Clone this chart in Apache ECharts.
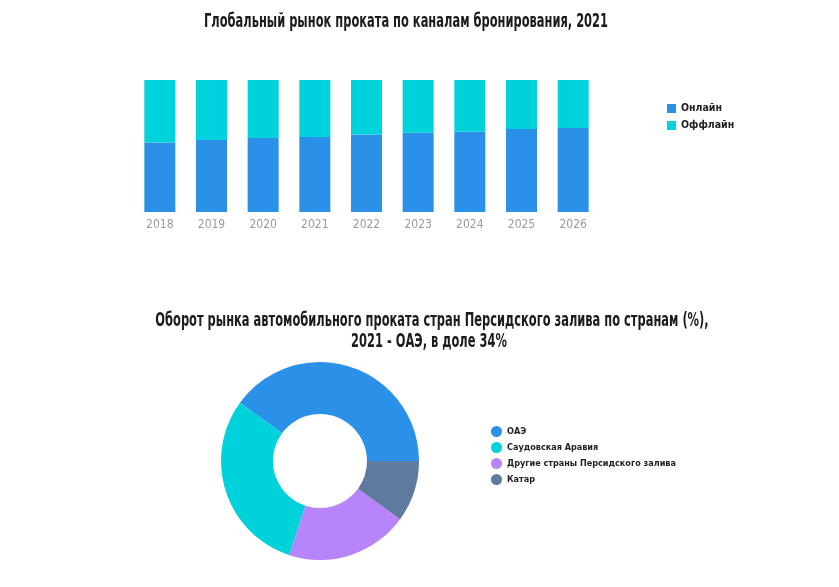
<!DOCTYPE html>
<html>
<head>
<meta charset="utf-8">
<script src="https://cdn.jsdelivr.net/npm/echarts@6/dist/echarts.min.js"></script>
<style>
html,body{margin:0;padding:0;background:#fff;}
#chart{width:839px;height:587px;}
</style>
</head>
<body>
<div id="chart"></div>
<script>
var FONT = "'Liberation Sans Narrow','DejaVu Sans Condensed','Roboto Condensed',sans-serif";

var barTitle = 'Глобальный рынок проката по каналам бронирования, 2021';
var years = ['2018','2019','2020','2021','2022','2023','2024','2025','2026'];
var barSeriesNames = ['Онлайн','Оффлайн'];
var onlineShare = [52.6, 54.5, 56.0, 56.8, 58.8, 60.0, 60.8, 62.9, 63.6];
var offlineShare = [47.4, 45.5, 44.0, 43.2, 41.2, 40.0, 39.2, 37.1, 36.4];

var pieTitle1 = 'Оборот рынка автомобильного проката стран Персидского залива по странам (%),';
var pieTitle2 = '2021 - ОАЭ, в доле 34%';
var countries = ['ОАЭ','Саудовская Аравия','Другие страны Персидского залива','Катар'];
var countryShare = [40, 30, 20, 10];

var blue = '#2a90e8', cyan = '#00d2dc', purple = '#b884fb', slate = '#5e7a9e';

var chart = echarts.init(document.getElementById('chart'), null, {renderer:'canvas'});
chart.setOption({
  backgroundColor:'#ffffff',
  animation:false,
  textStyle:{fontFamily:FONT},
  graphic:[
    {type:'text', x:406, y:22, scaleX:0.67, style:{text:barTitle, fill:'#1c1c1c', font:'bold 19px '+FONT, textAlign:'center', textVerticalAlign:'middle'}},
    {type:'text', x:432, y:321, scaleX:0.67, style:{text:pieTitle1, fill:'#1c1c1c', font:'bold 19px '+FONT, textAlign:'center', textVerticalAlign:'middle'}},
    {type:'text', x:429, y:342, scaleX:0.67, style:{text:pieTitle2, fill:'#1c1c1c', font:'bold 19px '+FONT, textAlign:'center', textVerticalAlign:'middle'}}
  ],
  legend:[
    {orient:'vertical', left:662, top:98, itemWidth:9, itemHeight:9, itemGap:6, icon:'rect',
     data:barSeriesNames, textStyle:{fontFamily:FONT, fontSize:10.5, color:'#222', fontWeight:'bold'}},
    {orient:'vertical', left:486, top:421, itemWidth:11, itemHeight:11, itemGap:5, icon:'circle',
     data:countries, textStyle:{fontFamily:FONT, fontSize:9, color:'#222', fontWeight:'bold'}}
  ],
  grid:{left:134, right:240, top:80, bottom:375, containLabel:false},
  xAxis:{type:'category', data:years, axisLine:{show:false}, axisTick:{show:false},
    axisLabel:{color:'#9a9a9a', fontSize:12, margin:7, fontFamily:FONT}},
  yAxis:{type:'value', min:0, max:100, show:false, splitLine:{show:false}},
  series:[
    {name:barSeriesNames[0], type:'bar', stack:'s', barWidth:'60%', data:onlineShare, itemStyle:{color:blue}},
    {name:barSeriesNames[1], type:'bar', stack:'s', barWidth:'60%', data:offlineShare, itemStyle:{color:cyan}},
    {name:'countries', type:'pie', center:[320,461], radius:[47,99], startAngle:0, clockwise:false,
     label:{show:false}, labelLine:{show:false},
     data:countries.map(function(c,i){return {name:c, value:countryShare[i], itemStyle:{color:[blue,cyan,purple,slate][i]}};})}
  ]
});
</script>
</body>
</html>
